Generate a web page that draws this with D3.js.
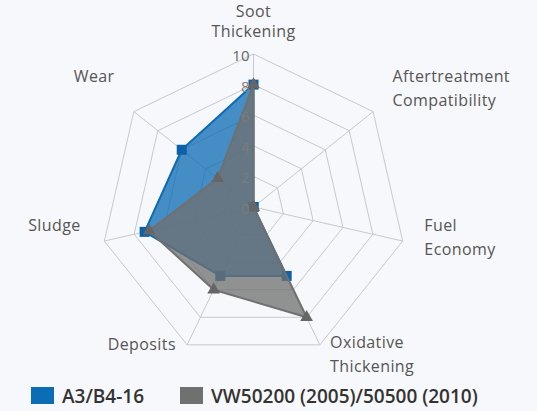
<!DOCTYPE html>
<html>
<head>
<meta charset="utf-8">
<script src="https://cdn.jsdelivr.net/npm/d3@7"></script>
<style>
  html, body { margin: 0; padding: 0; background: #f7f8fb; }
  svg { display: block; font-family: "Open Sans", sans-serif; }
</style>
</head>
<body>
<div id="chart"></div>
<script>
// data
const categories = ["Soot Thickening", "Aftertreatment Compatibility", "Fuel Economy",
  "Oxidative Thickening", "Deposits", "Sludge", "Wear"];
const seriesNames = ["A3/B4-16", "VW50200 (2005)/50500 (2010)"];
const a3b4 = [8, 0, 0, 5, 5, 7.3, 6];
const vw = [8, 0, 0, 8, 6, 7, 3];
const ringTicks = [0, 2, 4, 6, 8, 10];

const width = 537, height = 411;
const cx = 253.5, cy = 207, R = 153;
const colors = ["#0d6ab4", "#707070"];

// label nudges (px) from the spot just outside each spoke
const labelNudge = [[0, -21], [10, -16], [10, -7], [5, -2], [-6, -12], [-12, -19], [-10, -28]];
const lineGap = 20;

const svg = d3.select("#chart").append("svg")
  .attr("width", width).attr("height", height);

svg.append("rect").attr("width", width).attr("height", height).attr("fill", "#f7f8fb");

const g = svg.append("g").attr("transform", `translate(${cx},${cy})`);

const step = 2 * Math.PI / categories.length;
const ang = (c) => categories.indexOf(c) * step;
const r = d3.scaleLinear().domain([0, 10]).range([0, R]);

const pt = (c, v) => [Math.sin(ang(c)) * r(v), -Math.cos(ang(c)) * r(v)];

// grid rings
ringTicks.filter(t => t > 0).forEach(t => {
  g.append("path")
    .attr("d", d3.line()(categories.map(c => pt(c, t))) + "Z")
    .attr("fill", "none")
    .attr("stroke", "#c9c9cc")
    .attr("stroke-width", 1);
});

// spokes
categories.forEach(c => {
  const p = pt(c, 10);
  g.append("line")
    .attr("x1", 0).attr("y1", 0)
    .attr("x2", p[0]).attr("y2", p[1])
    .attr("stroke", "#c9c9cc")
    .attr("stroke-width", 1);
});

// category labels
categories.forEach((c, i) => {
  const p = [Math.sin(ang(c)) * (R + 12), -Math.cos(ang(c)) * (R + 12)];
  const sx = Math.sin(ang(c));
  const anchor = Math.abs(sx) < 0.01 ? "middle" : (sx > 0 ? "start" : "end");
  const lines = c.split(" ");
  const x = p[0] + labelNudge[i][0];
  const yc = p[1] + labelNudge[i][1];
  const t = g.append("text")
    .attr("text-anchor", anchor)
    .attr("font-size", 16)
    .attr("letter-spacing", 0.4)
    .attr("fill", "#555");
  lines.forEach((l, j) => {
    t.append("tspan")
      .attr("x", x)
      .attr("y", yc + (j - (lines.length - 1) / 2) * (i === 0 ? lineGap : 24))
      .attr("dominant-baseline", "central")
      .text(l);
  });
});

// series
const series = [a3b4, vw];
const line = d3.lineRadial()
  .angle((d, i) => i * step)
  .radius(d => r(d))
  .curve(d3.curveLinearClosed);

series.forEach((vals, s) => {
  const sg = g.append("g");
  sg.append("path")
    .attr("d", line(vals))
    .attr("fill", colors[s])
    .attr("fill-opacity", 0.76)
    .attr("stroke", colors[s])
    .attr("stroke-width", 2)
    .attr("stroke-linejoin", "round");
  sg.selectAll("path.marker")
    .data(vals)
    .join("path")
    .attr("class", "marker")
    .attr("transform", (d, i) => {
      const p = pt(categories[i], d);
      return `translate(${p[0]},${p[1]})`;
    })
    .attr("d", d3.symbol().type(s === 0 ? d3.symbolSquare : d3.symbolTriangle).size(s === 0 ? 100 : 70))
    .attr("fill", s === 0 ? "#0b62a8" : "#666");
});

// radial axis labels
ringTicks.forEach(t => {
  g.append("text")
    .attr("x", -4)
    .attr("y", -r(t) + 1)
    .attr("text-anchor", "end")
    .attr("dominant-baseline", "central")
    .attr("font-size", 15)
    .attr("fill", t === 10 ? "#666" : "#7c7c7c")
    .text(t);
});

// legend
const legend = svg.append("g").attr("transform", "translate(31,387)");
const legX = [0, 149];
seriesNames.forEach((n, i) => {
  const lg = legend.append("g").attr("transform", `translate(${legX[i]},0)`);
  lg.append("rect").attr("width", 23).attr("height", 17).attr("fill", i === 0 ? "#0b6db5" : "#707070");
  lg.append("text")
    .attr("x", 31).attr("y", 16)
    .attr("font-size", 19)
    .attr("font-weight", 600)
    .attr("fill", "#333")
    .text(n);
});
</script>
</body>
</html>
